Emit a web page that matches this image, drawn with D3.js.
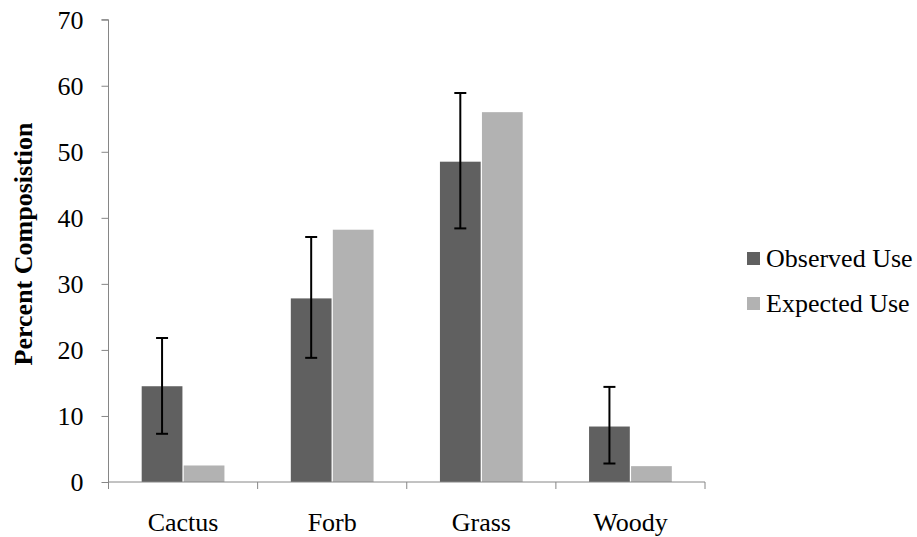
<!DOCTYPE html>
<html>
<head>
<meta charset="utf-8">
<script src="https://cdn.jsdelivr.net/npm/d3@7"></script>
<style>
  html, body { margin: 0; padding: 0; background: #fff; }
  svg { display: block; }
  text { font-family: "Liberation Serif", "Times New Roman", serif; fill: #000; }
</style>
</head>
<body>
<svg id="chart" width="917" height="537"></svg>
<script>
const categories = ["Cactus", "Forb", "Grass", "Woody"];
const seriesNames = ["Observed Use", "Expected Use"];
const observed = [14.5, 27.8, 48.5, 8.4];
const expected = [2.5, 38.2, 56.0, 2.4];
const errLow = [7.3, 18.8, 38.4, 2.8];
const errHigh = [21.8, 37.1, 58.9, 14.4];
const yTicks = [0, 10, 20, 30, 40, 50, 60, 70];
const colors = ["#606060", "#b2b2b2"];

const svg = d3.select("#chart");
const plotLeft = 108.5, plotRight = 705, plotTop = 19.7, plotBottom = 482;

const x = d3.scaleBand().domain(categories).range([plotLeft, plotRight]).padding(0);
const x1 = d3.scaleBand().domain(seriesNames).range([0, x.bandwidth()])
  .paddingInner(0.03).paddingOuter(0.79);
const y = d3.scaleLinear().domain([0, 70]).range([plotBottom, plotTop]);

const axisColor = "#868686";

// Bars
const values = [observed, expected];
seriesNames.forEach((s, si) => {
  svg.append("g").selectAll("rect")
    .data(categories)
    .join("rect")
    .attr("x", c => x(c) + x1(s))
    .attr("width", x1.bandwidth())
    .attr("y", (c, i) => y(values[si][i]))
    .attr("height", (c, i) => y(0) - y(values[si][i]))
    .attr("fill", colors[si]);
});

// Y axis
const yAxis = svg.append("g")
  .attr("transform", `translate(${plotLeft},0)`)
  .call(d3.axisLeft(y).tickValues(yTicks).tickSize(7).tickPadding(18).tickFormat(d3.format("d")));
yAxis.select(".domain").attr("stroke", axisColor).attr("d", `M-7,${y(70)}H0V${y(0)}`);
yAxis.selectAll(".tick line").attr("stroke", axisColor);
yAxis.selectAll(".tick text")
  .attr("font-family", "Liberation Serif, serif")
  .attr("font-size", 26)
  .attr("dy", "0.34em");

// X axis line
svg.append("line")
  .attr("x1", plotLeft).attr("x2", plotRight)
  .attr("y1", y(0)).attr("y2", y(0))
  .attr("stroke", axisColor).attr("stroke-width", 1);

// X tick marks at band boundaries
const boundaries = categories.map(c => x(c)).concat([x(categories[categories.length - 1]) + x.bandwidth()]);
svg.append("g").selectAll("line")
  .data(boundaries)
  .join("line")
  .attr("x1", d => d).attr("x2", d => d)
  .attr("y1", y(0)).attr("y2", y(0) + 7)
  .attr("stroke", axisColor);

// X labels
svg.append("g").selectAll("text")
  .data(categories)
  .join("text")
  .attr("x", c => x(c) + x.bandwidth() / 2)
  .attr("y", y(0) + 49)
  .attr("text-anchor", "middle")
  .attr("font-size", 26)
  .text(c => c);

// Error bars (observed)
const eg = svg.append("g").attr("stroke", "#000").attr("stroke-width", 2);
categories.forEach((c, i) => {
  const cx = x(c) + x1(seriesNames[0]) + x1.bandwidth() / 2;
  eg.append("line").attr("x1", cx).attr("x2", cx).attr("y1", y(errLow[i])).attr("y2", y(errHigh[i]));
  eg.append("line").attr("x1", cx - 6).attr("x2", cx + 6).attr("y1", y(errLow[i])).attr("y2", y(errLow[i]));
  eg.append("line").attr("x1", cx - 6).attr("x2", cx + 6).attr("y1", y(errHigh[i])).attr("y2", y(errHigh[i]));
});

// Y title
svg.append("text")
  .attr("transform", `translate(32,244) rotate(-90)`)
  .attr("text-anchor", "middle")
  .attr("font-size", 26)
  .attr("font-weight", "bold")
  .text("Percent Composistion");

// Legend
const legend = svg.append("g");
seriesNames.forEach((s, i) => {
  const cy = 258.5 + i * 45;
  legend.append("rect")
    .attr("x", 747).attr("y", cy - 6.5)
    .attr("width", 13).attr("height", 13)
    .attr("fill", colors[i]);
  legend.append("text")
    .attr("x", 766).attr("y", cy + 8)
    .attr("font-size", 26)
    .text(s);
});
</script>
</body>
</html>
